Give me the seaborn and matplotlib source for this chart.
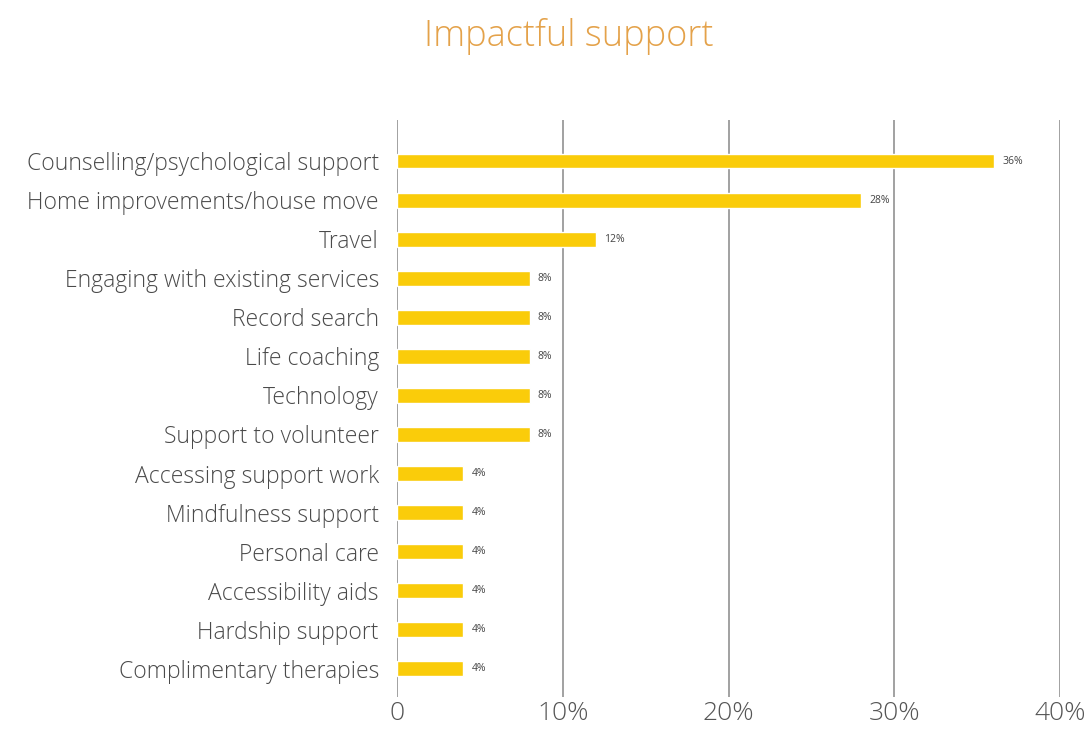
import matplotlib
matplotlib.use("Agg")
import matplotlib.pyplot as plt
import seaborn as sns
import pandas as pd

categories = [
    "Counselling/psychological support",
    "Home improvements/house move",
    "Travel",
    "Engaging with existing services",
    "Record search",
    "Life coaching",
    "Technology",
    "Support to volunteer",
    "Accessing support work",
    "Mindfulness support",
    "Personal care",
    "Accessibility aids",
    "Hardship support",
    "Complimentary therapies",
]
shares = [36, 28, 12, 8, 8, 8, 8, 8, 4, 4, 4, 4, 4, 4]
tick_values = [0, 10, 20, 30, 40]
tick_labels = ["0", "10%", "20%", "30%", "40%"]

df = pd.DataFrame({"category": categories, "share": shares})

sns.set_theme(style="white")
plt.rcParams["font.family"] = ["Open Sans", "DejaVu Sans"]

fig = plt.figure(figsize=(10.9, 7.31), dpi=100)
ax = fig.add_axes([0.3642, 0.0465, 0.6083, 0.7893])

sns.barplot(data=df, x="share", y="category", orient="h",
            color="#FACC0A", saturation=1, width=0.38, ax=ax, zorder=3)

for i, v in enumerate(shares):
    ax.text(v + 0.5, i, f"{v}%", va="center", ha="left",
            fontsize=7.5, color="#444444", zorder=4)

ax.set_xlim(0, 40)
ax.set_ylim(len(categories) - 1 + 0.72, -1.05)
ax.set_xticks(tick_values)
ax.set_xticklabels(tick_labels, fontsize=19, color="#555555", fontweight="light")
ax.tick_params(axis="y", labelsize=16.5, labelcolor="#4a4a4a", length=0, pad=13)
ax.tick_params(axis="x", length=0, pad=3)
for lbl in ax.get_yticklabels():
    lbl.set_fontweight("light")
for xv in tick_values:
    ax.axvline(xv, color="#888888", linewidth=1.1, zorder=1)
for s in ax.spines.values():
    s.set_visible(False)
ax.set_xlabel("")
ax.set_ylabel("")

fig.text(0.522, 0.950, "Impactful support", ha="center", va="center",
         fontsize=26, color="#E4A24A", fontweight="light")

fig.savefig("out.png", dpi=100, facecolor="white")
